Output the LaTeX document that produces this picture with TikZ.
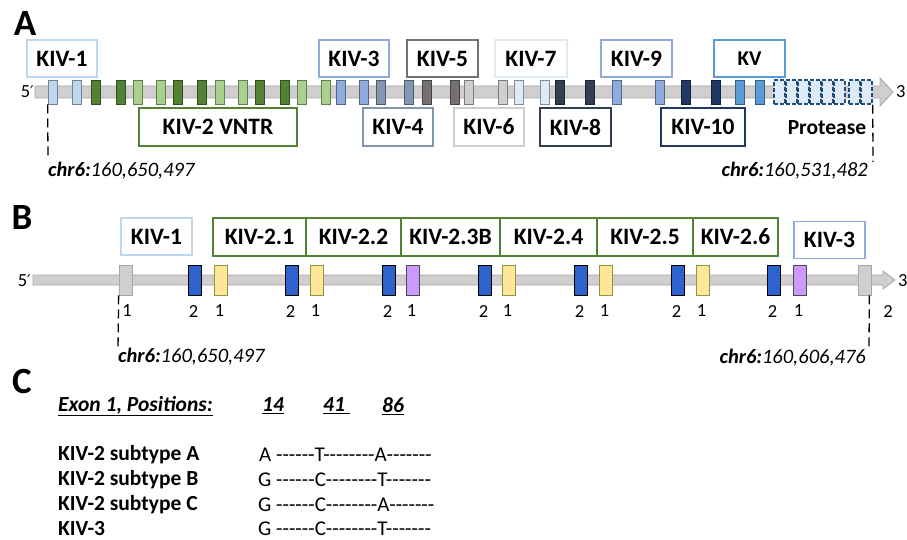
\documentclass[tikz,border=0pt]{standalone}
\usepackage{fontspec}
\setmainfont{Carlito}
% plain family without TeX ligatures, so runs of hyphens stay hyphens
\newfontfamily\seqfont{Carlito}
% family that carries the prime sign
\newfontfamily\primefont{DejaVu Sans}

\definecolor{kone}{HTML}{BDD7EE}
\definecolor{dgreen}{HTML}{548235}
\definecolor{lgreen}{HTML}{A9D18E}
\definecolor{kthree}{HTML}{8FAADC}
\definecolor{kfour}{HTML}{8497B0}
\definecolor{kfive}{HTML}{767171}
\definecolor{ksix}{HTML}{D0CECE}
\definecolor{kseven}{HTML}{DEEBF7}
\definecolor{keight}{HTML}{333F50}
\definecolor{kten}{HTML}{1F3864}
\definecolor{kv}{HTML}{5B9BD5}
\definecolor{protb}{HTML}{1F4E79}
\definecolor{barfill}{HTML}{D0CECE}
\definecolor{barline}{HTML}{A6A6A6}
\definecolor{exblue}{HTML}{2E62CC}
\definecolor{exyellow}{HTML}{FFE699}
\definecolor{exyline}{HTML}{8A9A3A}
\definecolor{expurple}{HTML}{CC99FF}

\begin{document}
\begin{tikzpicture}[x=1pt,y=-1pt,
  lbl/.style={draw, line width=1.6pt, fill=white, inner sep=0pt,
    minimum height=37pt, font=\bfseries\fontsize{23.5}{25}\selectfont},
  exa/.style={rectangle, inner sep=0pt, minimum width=9.5pt,
    minimum height=24pt, line width=0.7pt},
  exb/.style={rectangle, inner sep=0pt, minimum width=13pt,
    minimum height=30pt, line width=0.7pt},
  num/.style={inner sep=0pt, font=\fontsize{18.5}{20}\selectfont},
  panel/.style={inner sep=0pt, font=\bfseries\fontsize{37}{40}\selectfont},
  coord/.style={inner sep=0pt, font=\itshape\fontsize{20.5}{22}\selectfont},
  dashline/.style={line width=1.3pt, dash pattern=on 9pt off 5pt},
  backbone/.style={fill=barfill, draw=barline, line width=0.8pt},
  ctext/.style={inner sep=0pt, anchor=west, font=\bfseries\fontsize{21.5}{23}\selectfont},
  chead/.style={ctext, font=\bfseries\itshape\fontsize{21.5}{23}\selectfont},
  cseq/.style={inner sep=0pt, anchor=west, font=\seqfont\fontsize{21}{23}\selectfont}]

\useasboundingbox (0,0) rectangle (907,540);

% ---------------- Panel A: whole gene ----------------
\node[panel] (pA) at (25,24) {A};
\path[backbone] (35,86) -- (880,86) -- (880,78) -- (893,92) -- (880,106)
  -- (880,98) -- (35,98) -- cycle;
\node[num, anchor=east] (fiveA) at (34,92) {5{\primefont\fontsize{16}{17}\selectfont ′}};
\node[num, anchor=west] (threeA) at (896,92) {3};

\foreach \xl/\c [count=\i] in {48/kone,72/kone,
    91/dgreen,116/dgreen,133/lgreen,156/lgreen,173/dgreen,197/dgreen,
    215/lgreen,238/lgreen,255/dgreen,280/dgreen,297/lgreen,321/lgreen,
    336/kthree,359/kthree,376/kfour,404/kfour,422/kfive,450/kfive,
    464/ksix,498/ksix,514/kseven,540/kseven,555/keight,585/keight,
    612/kthree,655/kthree,681/kten,711/kten,735/kv,755/kv}
  \node[exa, fill=\c, draw=\c!60!black] (ea\i) at (\xl+4.75,92) {};

% protease domain
\foreach \xl [count=\i] in {774,786,798,810,822,834,849,861}
  \node[exa, minimum width=11pt, fill=kseven, draw=protb, line width=1.5pt,
    dash pattern=on 4pt off 2pt] (pr\i) at (\xl+5.5,92) {};

\node[lbl, draw=kone, minimum width=70pt] (a1) at (62,58.5) {KIV-1};
\node[lbl, draw=dgreen, minimum width=158pt, minimum height=38pt] (a2) at (218,127) {KIV-2 VNTR};
\node[lbl, draw=kthree, minimum width=70pt] (a3) at (354,58.5) {KIV-3};
\node[lbl, draw=kfour, minimum width=70pt, minimum height=38pt] (a4) at (398,127) {KIV-4};
\node[lbl, draw=kfive, minimum width=71pt] (a5) at (442.5,58.5) {KIV-5};
\node[lbl, draw=ksix, minimum width=70pt, minimum height=38pt] (a6) at (489,127) {KIV-6};
\node[lbl, draw=kseven, minimum width=72pt] (a7) at (531,58.5) {KIV-7};
\node[lbl, draw=keight, minimum width=71pt, minimum height=38pt] (a8) at (575.5,127) {KIV-8};
\node[lbl, draw=kthree, minimum width=71pt] (a9) at (636.5,58.5) {KIV-9};
\node[lbl, draw=kten, minimum width=84pt, minimum height=38pt] (a10) at (703,127) {KIV-10};
\node[lbl, draw=kv, minimum width=71pt, font=\bfseries\fontsize{21}{22}\selectfont] (akv) at (749.5,58.5) {KV};
\node[inner sep=0pt, font=\bfseries\fontsize{21.5}{22}\selectfont] (prot) at (827,128) {Protease};

\coordinate (dA1) at (48,160);
\coordinate (dA2) at (873,162);
\draw[dashline] (ea1.south west) -- (dA1);
\draw[dashline] (pr8.south east) -- (dA2);
\node[coord, anchor=west] (chrA1) at (48,171) {\textbf{chr6:}160,650,497};
\node[coord, anchor=east] (chrA2) at (868,171) {\textbf{chr6:}160,531,482};

% ---------------- Panel B: KIV-1 to KIV-3 ----------------
\node[panel] (pB) at (22,218) {B};
\path[backbone] (33,275) -- (883,275) -- (883,271) -- (895,280) -- (883,289)
  -- (883,285) -- (33,285) -- cycle;
\node[num, anchor=east] (fiveB) at (31,281) {5{\primefont\fontsize{16}{17}\selectfont ′}};
\node[num, anchor=west] (threeB) at (898,281) {3};

\foreach \xl/\c/\d [count=\i] in {119/barfill/barline,
    188/exblue/black,214/exyellow/exyline,285/exblue/black,310/exyellow/exyline,
    382/exblue/black,406/expurple/black!70,478/exblue/black,502/exyellow/exyline,
    574/exblue/black,599/exyellow/exyline,671/exblue/black,696/exyellow/exyline,
    767/exblue/black,793/expurple/black!70,858/barfill/barline}
  \node[exb, fill=\c, draw=\d] (eb\i) at (\xl+6.5,280) {};

\foreach \i/\t in {2/2,3/1,4/2,5/1,6/2,7/1,8/2,9/1,10/2,11/1,12/2,13/1,14/2,15/1}
  \node[num] (nb\i) at ([xshift=-1pt]eb\i.center |- 0,311) {\t};
\node[num] (nb1) at (127,311) {1};
\node[num] (nb16) at (888,311) {2};

\node[lbl, draw=kone, minimum width=71pt] (b1) at (156.5,236.5) {KIV-1};
\begin{scope}[every node/.style={lbl, draw=dgreen, minimum height=38pt}]
  \node[minimum width=93pt] (b21) at (259.5,237) {KIV-2.1};
  \node[minimum width=95pt] (b22) at (353.5,237) {KIV-2.2};
  \node[minimum width=99pt] (b23) at (450.5,237) {KIV-2.3B};
  \node[minimum width=97pt] (b24) at (548.5,237) {KIV-2.4};
  \node[minimum width=96pt] (b25) at (645,237) {KIV-2.5};
  \node[minimum width=85pt] (b26) at (735.5,237) {KIV-2.6};
\end{scope}
\node[lbl, draw=kthree, minimum width=71pt] (b3) at (829.5,240) {KIV-3};

\coordinate (dB1) at (118,350);
\coordinate (dB2) at (869,348);
\draw[dashline] (eb1.south west) -- (dB1);
\draw[dashline] (eb16.south east) ++(-2,0) -- (dB2);
\node[coord, anchor=west] (chrB1) at (118,357) {\textbf{chr6:}160,650,497};
\node[coord, anchor=east] (chrB2) at (866,358) {\textbf{chr6:}160,606,476};

% ---------------- Panel C: exon 1 variants ----------------
\node[panel] (pC) at (22,381) {C};
\node[chead] (hdr) at (58,406) {\underline{Exon 1, Positions:}};
\node[chead] (p14) at (262,406) {\underline{14}};
\node[chead] (p41) at (323,406) {\underline{41\ }};
\node[chead] (p86) at (382,406) {\underline{86}};

\node[ctext] (rA) at (58,455) {KIV-2 subtype A};
\node[ctext] (rB) at (58,480) {KIV-2 subtype B};
\node[ctext] (rC) at (58,505) {KIV-2 subtype C};
\node[ctext] (r3) at (58,529) {KIV-3};

\node[cseq] (sA) at (259,455) {A ------T--------A-------};
\node[cseq] (sB) at (258,480) {G ------C--------T-------};
\node[cseq] (sC) at (258,505) {G ------C--------A-------};
\node[cseq] (s3) at (258,529) {G ------C--------T-------};

\end{tikzpicture}
\end{document}
